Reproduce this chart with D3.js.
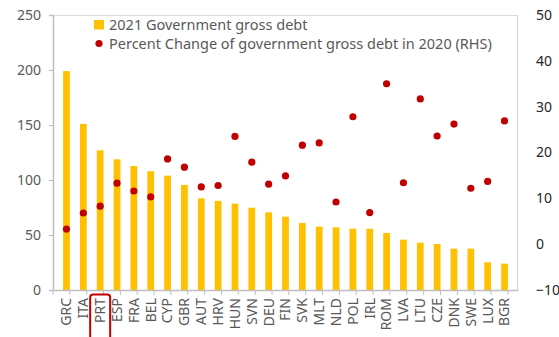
<!DOCTYPE html>
<html>
<head>
<meta charset="utf-8">
<script src="https://cdn.jsdelivr.net/npm/d3@7"></script>
<style>
  body { margin: 0; background: #fff; }
  text { font-family: "Noto Sans", sans-serif; }
</style>
</head>
<body>
<div id="chart"></div>
<script>
// values
const countries = ["GRC", "ITA", "PRT", "ESP", "FRA", "BEL", "CYP", "GBR", "AUT", "HRV", "HUN", "SVN", "DEU",
  "FIN", "SVK", "MLT", "NLD", "POL", "IRL", "ROM", "LVA", "LTU", "CZE", "DNK", "SWE", "LUX", "BGR"];
const debt2021 = [199, 151, 127, 118.8, 112.7, 108, 104, 95.5, 83.3, 81, 78.5, 74.8, 70.6,
  66.7, 61, 57.6, 57, 55.8, 55.7, 51.8, 45.8, 43, 41.8, 37.6, 37.6, 25.2, 24];
const change2020 = [3.3, 6.8, 8.3, 13.3, 11.6, 10.3, 18.6, 16.8, 12.5, 12.8, 23.5, 17.9, 13.1,
  14.9, 21.6, 22.1, 9.2, 27.8, 6.9, 35.0, 13.4, 31.7, 23.6, 26.2, 12.2, 13.7, 26.9];
const leftTicks = [0, 50, 100, 150, 200, 250];
const rightTicks = [-10, 0, 10, 20, 30, 40, 50];
const seriesNames = ["2021 Government gross debt", "Percent Change of government gross debt in 2020 (RHS)"];
const highlighted = "PRT";

const width = 559, height = 337;
const margin = { top: 15, right: 41, bottom: 47, left: 53 };
const innerW = width - margin.left - margin.right;
const innerH = height - margin.top - margin.bottom;
const gold = "#FFC000", red = "#C00000", grey = "#595959";

const svg = d3.select("#chart").append("svg")
  .attr("width", width)
  .attr("height", height);

const g = svg.append("g").attr("transform", `translate(${margin.left},${margin.top})`);

const x = d3.scaleBand().domain(countries).range([0, innerW]).padding(0.6);
const yL = d3.scaleLinear().domain([0, 250]).range([innerH, 0]);
const yR = d3.scaleLinear().domain([-10, 50]).range([innerH, 0]);

// plot frame: light top/right, darker left/bottom
g.append("line").attr("x1", 0).attr("x2", innerW).attr("y1", 0.5).attr("y2", 0.5).attr("stroke", "#d9d9d9");
g.append("line").attr("x1", innerW - 0.5).attr("x2", innerW - 0.5).attr("y1", 0).attr("y2", innerH).attr("stroke", "#d9d9d9");

// left axis
const axL = g.append("g")
  .call(d3.axisLeft(yL).tickValues(leftTicks).tickSize(4).tickPadding(8));
axL.select(".domain").attr("stroke", "#bfbfbf").attr("stroke-width", 1.5);
axL.selectAll(".tick line").attr("stroke", "#bfbfbf");
axL.selectAll("text").attr("fill", grey).style("font-size", "14px").style("font-family", "Noto Sans");

// right axis (labels only)
const axR = g.append("g")
  .attr("transform", `translate(${innerW},0)`)
  .call(d3.axisRight(yR).tickValues(rightTicks).tickSize(0).tickPadding(18));
axR.select(".domain").remove();
axR.selectAll("text").attr("fill", "#262626").style("font-size", "14px").style("font-family", "Noto Sans");

// bars
g.append("g").selectAll("rect")
  .data(countries)
  .join("rect")
  .attr("x", d => x(d))
  .attr("width", x.bandwidth())
  .attr("y", (d, i) => yL(debt2021[i]))
  .attr("height", (d, i) => yL(0) - yL(debt2021[i]))
  .attr("fill", gold);

// bottom axis with ticks between categories
const axB = g.append("g")
  .attr("transform", `translate(0,${innerH})`)
  .call(d3.axisBottom(x).tickSize(0).tickPadding(7));
axB.select(".domain").attr("stroke", "#bfbfbf").attr("stroke-width", 1.5);
axB.selectAll("text")
  .attr("fill", grey)
  .style("font-size", "14px")
  .style("font-family", "Noto Sans")
  .attr("transform", "rotate(-90)")
  .attr("text-anchor", "end")
  .attr("dy", "0.35em")
  .attr("x", -8)
  .attr("y", 0);

const step = x.step();
axB.append("g").selectAll("line")
  .data(d3.range(countries.length + 1))
  .join("line")
  .attr("x1", i => i * step)
  .attr("x2", i => i * step)
  .attr("y1", 0)
  .attr("y2", 5)
  .attr("stroke", "#bfbfbf");

// dots
g.append("g").selectAll("circle")
  .data(countries)
  .join("circle")
  .attr("cx", d => x(d) + x.bandwidth() / 2)
  .attr("cy", (d, i) => yR(change2020[i]))
  .attr("r", 3.6)
  .attr("fill", red);

// highlight box around PRT label
const hx = x(highlighted) + x.bandwidth() / 2;
g.append("rect")
  .attr("x", hx - 10)
  .attr("y", innerH + 4.5)
  .attr("width", 20)
  .attr("height", 50)
  .attr("rx", 3)
  .attr("fill", "none")
  .attr("stroke", red)
  .attr("stroke-width", 2);

// legend
const legend = svg.append("g").attr("transform", "translate(94,0)");
legend.append("rect").attr("x", 0).attr("y", 20).attr("width", 10).attr("height", 9.5).attr("fill", gold);
legend.append("circle").attr("cx", 5).attr("cy", 43.5).attr("r", 3.6).attr("fill", red);
legend.selectAll("text.lg")
  .data(seriesNames)
  .join("text")
  .attr("class", "lg")
  .attr("x", 15)
  .attr("y", (d, i) => 29.5 + i * 19.5)
  .attr("fill", grey)
  .style("font-size", "14.5px")
  .text(d => d);
</script>
</body>
</html>
